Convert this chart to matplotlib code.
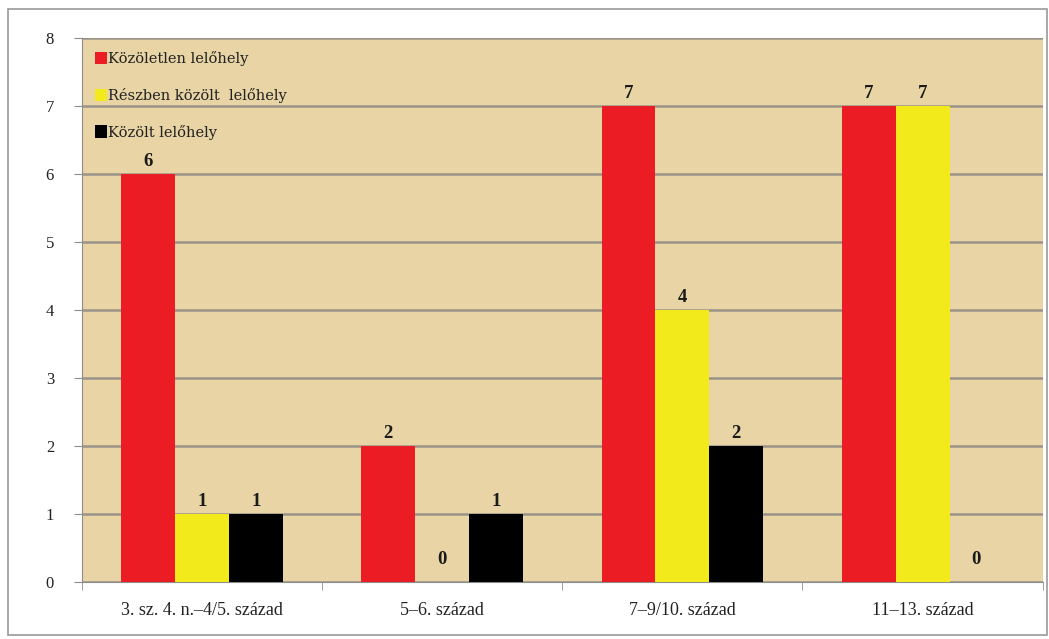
import numpy as np
import matplotlib.pyplot as plt
from matplotlib.patches import Rectangle

categories = ["3. sz. 4. n.–4/5. század", "5–6. század", "7–9/10. század", "11–13. század"]
kozoletlen = [6, 2, 7, 7]
reszben = [1, 0, 4, 7]
kozolt = [1, 1, 2, 0]
series_names = ["Közöletlen lelőhely", "Részben közölt  lelőhely", "Közölt lelőhely"]
colors = ["#ec1c24", "#f2ea1a", "#000000"]

plt.rcParams['font.family'] = ['Liberation Serif', 'DejaVu Serif']

fig = plt.figure(figsize=(10.49, 6.39), dpi=100)
fig.patch.set_facecolor("white")
fig.add_artist(Rectangle((0.008, 0.006), 0.99, 0.98, transform=fig.transFigure,
                         fill=False, edgecolor="#9a9a9a", linewidth=1.2))
ax = fig.add_axes([0.078, 0.089, 0.916, 0.852])
ax.set_facecolor("#e8d4a4")

x = np.arange(len(categories))
w = 0.224
all_series = [kozoletlen, reszben, kozolt]
for i, vals in enumerate(all_series):
    pos = x + (i - 1) * w
    ax.bar(pos, vals, width=w, color=colors[i], label=series_names[i], zorder=3)
    for p, v in zip(pos, vals):
        off = 10 if v == 0 else 3
        ax.annotate(str(v), (p, v), xytext=(0, off), textcoords="offset points",
                    ha="center", va="bottom", fontsize=13.5, fontweight="bold",
                    color="#1a1a1a", zorder=4)

ax.set_xlim(-0.5, len(categories) - 0.5)
ax.set_ylim(0, 8)
ax.set_yticks(range(0, 9))
ax.grid(axis="y", color="#9a9488", linewidth=1.8, zorder=1)
ax.set_xticks(x)
ax.set_xticklabels(categories, fontsize=13, color="#222222")
ax.set_xticks(np.arange(-0.5, len(categories)), minor=True)
ax.tick_params(axis="x", which="major", length=0, pad=14)
ax.tick_params(axis="x", which="minor", length=6, color="#8c8c8c")
ax.tick_params(axis="y", length=6, color="#8c8c8c", labelsize=12, pad=14,
               labelcolor="#222222")
for s in ["top", "right"]:
    ax.spines[s].set_visible(False)
for s in ["left", "bottom"]:
    ax.spines[s].set_color("#8c8c8c")

leg = ax.legend(loc="upper left", frameon=False, handlelength=0.8,
                handleheight=0.9, handletextpad=0.1, labelspacing=1.5,
                bbox_to_anchor=(0.0, 1.0),
                prop={"family": ["DejaVu Serif"], "size": 10.5})
for t in leg.get_texts():
    t.set_color("#222222")

fig.savefig("out.png", dpi=100)
